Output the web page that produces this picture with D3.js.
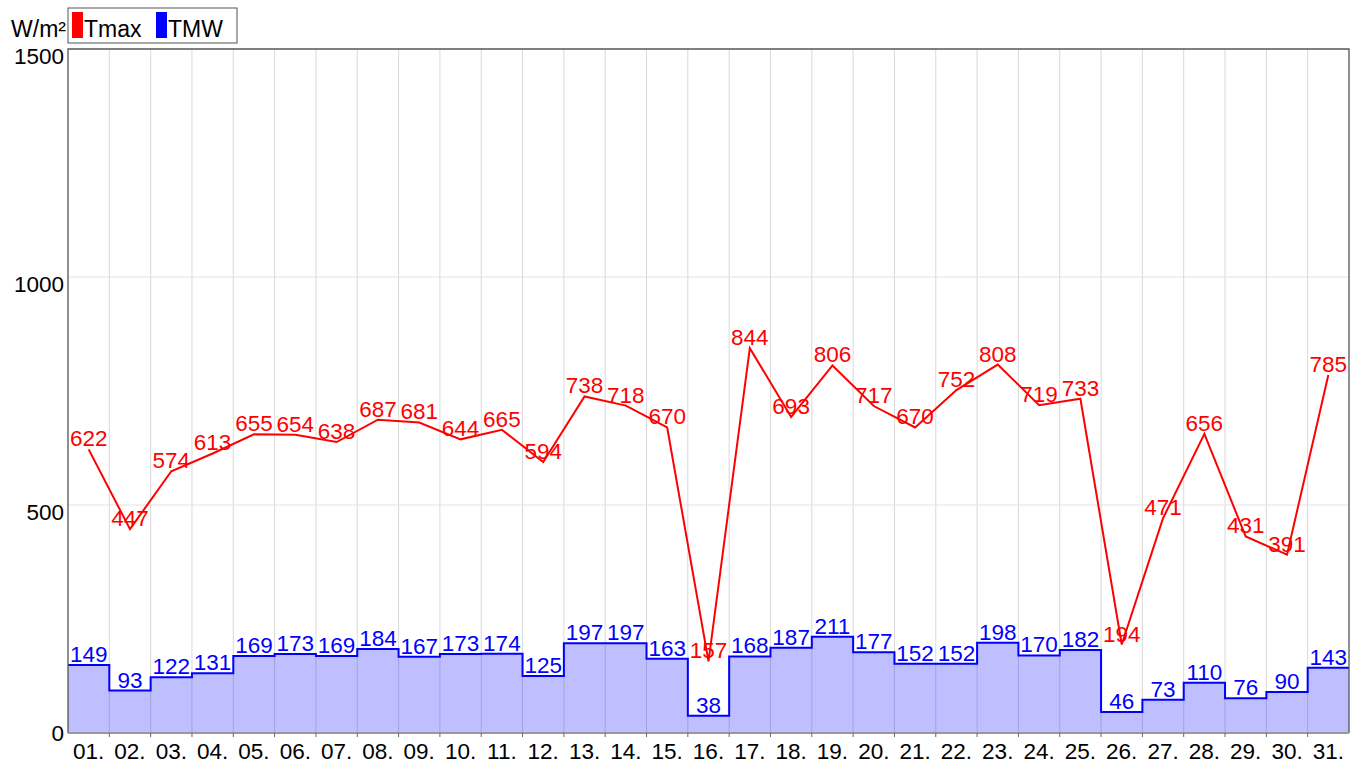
<!DOCTYPE html>
<html>
<head>
<meta charset="utf-8">
<script src="https://cdn.jsdelivr.net/npm/d3@7"></script>
<style>
  body { margin: 0; background: #fff; }
  text { font-family: "Liberation Sans", Arial, sans-serif; }
</style>
</head>
<body>
<div id="chart-area"></div>
<script>
var days = ["01.","02.","03.","04.","05.","06.","07.","08.","09.","10.","11.","12.","13.","14.","15.","16.",
            "17.","18.","19.","20.","21.","22.","23.","24.","25.","26.","27.","28.","29.","30.","31."];
var tmax = [622,447,574,613,655,654,638,687,681,644,665,594,738,718,670,157,
            844,693,806,717,670,752,808,719,733,194,471,656,431,391,785];
var tmw = [149,93,122,131,169,173,169,184,167,173,174,125,197,197,163,38,
           168,187,211,177,152,152,198,170,182,46,73,110,76,90,143];
var yTicks = [0, 500, 1000, 1500];

var width = 1361, height = 765;
var plotLeft = 68, plotRight = 1349, plotTop = 49, plotBottom = 733;
var fontSize = "22.5px";

var svg = d3.select("#chart-area")
    .append("svg")
    .attr("width", width)
    .attr("height", height);

var x = d3.scaleBand().domain(days).range([plotLeft, plotRight]).padding(0);
var y = d3.scaleLinear().domain([0, 1500]).range([plotBottom, plotTop]);
var bw = x.bandwidth();

// grid
var grid = svg.append("g");
grid.selectAll(".vgrid")
    .data(days.slice(1))
    .enter().append("line")
    .attr("x1", d => x(d)).attr("x2", d => x(d))
    .attr("y1", plotTop).attr("y2", plotBottom)
    .attr("stroke", "#d9d9d9").attr("stroke-width", 1);
grid.selectAll(".hgrid")
    .data([500, 1000])
    .enter().append("line")
    .attr("x1", plotLeft).attr("x2", plotRight)
    .attr("y1", d => y(d)).attr("y2", d => y(d))
    .attr("stroke", "#e3e3e3").attr("stroke-width", 1);

// TMW step area
var steps = days.map((d, i) => ({ x: x(d), v: tmw[i] }));
steps.push({ x: x(days[days.length - 1]) + bw, v: tmw[tmw.length - 1] });

var area = d3.area()
    .x(d => d.x)
    .y0(y(0))
    .y1(d => y(d.v))
    .curve(d3.curveStepAfter);
var stepLine = d3.line()
    .x(d => d.x)
    .y(d => y(d.v))
    .curve(d3.curveStepAfter);

svg.append("path")
    .datum(steps)
    .attr("d", area)
    .attr("fill", "rgba(0,0,255,0.25)");
svg.append("path")
    .datum(steps)
    .attr("d", stepLine)
    .attr("fill", "none")
    .attr("stroke", "#0000ff")
    .attr("stroke-width", 2);

// Tmax line
var line = d3.line()
    .x((d, i) => x(days[i]) + bw / 2)
    .y(d => y(d));
svg.append("path")
    .datum(tmax)
    .attr("d", line)
    .attr("fill", "none")
    .attr("stroke", "#ff0000")
    .attr("stroke-width", 2);

// labels
svg.selectAll(".tmwlab")
    .data(tmw)
    .enter().append("text")
    .attr("x", (d, i) => x(days[i]) + bw / 2)
    .attr("y", d => y(d) - 3)
    .attr("text-anchor", "middle")
    .attr("font-size", fontSize)
    .attr("fill", "#0000ff")
    .text(d => d);

svg.selectAll(".tmaxlab")
    .data(tmax)
    .enter().append("text")
    .attr("x", (d, i) => x(days[i]) + bw / 2)
    .attr("y", d => y(d) - 3)
    .attr("text-anchor", "middle")
    .attr("font-size", fontSize)
    .attr("fill", "#ff0000")
    .text(d => d);

// frame
svg.append("path")
    .attr("d", "M" + plotLeft + "," + plotBottom + "V" + plotTop + "H" + plotRight + "V" + plotBottom)
    .attr("fill", "none")
    .attr("stroke", "#555")
    .attr("stroke-width", 1.3);

// x axis
var xAxisGroup = svg.append("g")
    .attr("transform", "translate(0," + plotBottom + ")");
xAxisGroup.append("line")
    .attr("x1", plotLeft).attr("x2", plotRight)
    .attr("y1", 0).attr("y2", 0)
    .attr("stroke", "#999").attr("stroke-width", 2);
xAxisGroup.selectAll(".tick")
    .data(days.slice(1))
    .enter().append("line")
    .attr("x1", d => x(d)).attr("x2", d => x(d))
    .attr("y1", 0).attr("y2", 4)
    .attr("stroke", "#666").attr("stroke-width", 1);
xAxisGroup.selectAll(".xlab")
    .data(days)
    .enter().append("text")
    .attr("x", d => x(d) + bw / 2)
    .attr("y", 26)
    .attr("text-anchor", "middle")
    .attr("font-size", fontSize)
    .attr("fill", "#000")
    .text(d => d);

// y labels
svg.selectAll(".ylab")
    .data(yTicks)
    .enter().append("text")
    .attr("x", plotLeft - 4)
    .attr("y", d => d === 0 ? y(d) + 8 : y(d) + 15)
    .attr("text-anchor", "end")
    .attr("font-size", fontSize)
    .attr("fill", "#000")
    .text(d => d);

// unit + legend
svg.append("text")
    .attr("x", 66).attr("y", 37)
    .attr("text-anchor", "end")
    .attr("font-size", "23px")
    .attr("fill", "#000")
    .text("W/m²");

var legend = svg.append("g");
legend.append("rect")
    .attr("x", 68).attr("y", 8)
    .attr("width", 169).attr("height", 35)
    .attr("fill", "#fff")
    .attr("stroke", "#555").attr("stroke-width", 1);
var legItems = [
    { name: "Tmax", color: "#ff0000", x: 72 },
    { name: "TMW", color: "#0000ff", x: 156 }
];
legend.selectAll(".sw")
    .data(legItems)
    .enter().append("rect")
    .attr("x", d => d.x).attr("y", 12)
    .attr("width", 11).attr("height", 26)
    .attr("fill", d => d.color);
legend.selectAll(".lt")
    .data(legItems)
    .enter().append("text")
    .attr("x", d => d.x + 12).attr("y", 37)
    .attr("font-size", "23px")
    .attr("fill", "#000")
    .text(d => d.name);
</script>
</body>
</html>
